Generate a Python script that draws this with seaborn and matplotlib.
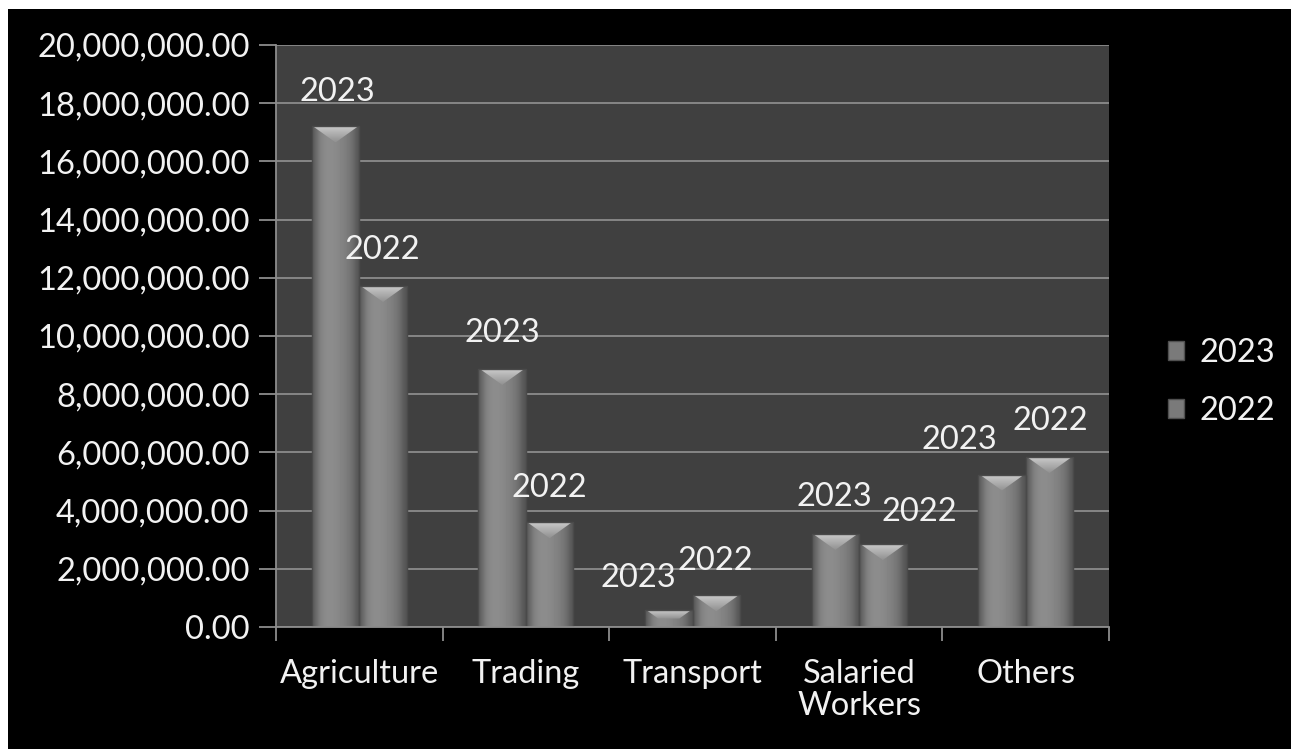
import numpy as np
import pandas as pd
import matplotlib
matplotlib.use("Agg")
import matplotlib.pyplot as plt
from matplotlib.patches import Rectangle, Polygon
from matplotlib.ticker import FuncFormatter, MultipleLocator
import seaborn as sns

# ---- data -------------------------------------------------------------
sectors = ["Agriculture", "Trading", "Transport", "Salaried\nWorkers", "Others"]
years = ["2023", "2022"]
values_2023 = [17_200_000, 8_870_000, 580_000, 3_200_000, 5_240_000]
values_2022 = [11_720_000, 3_600_000, 1_090_000, 2_850_000, 5_840_000]

# label nudges (pixels) so that neighbouring labels do not collide
label_dx = {"2023": [2, 0, -30, -1, -43], "2022": [-1, 0, -1, 36, 1]}
label_dy = {"2023": [34, 36, 32, 37, 35], "2022": [36, 34, 34, 32, 36]}

df = pd.DataFrame({
    "sector": sectors * 2,
    "year": [years[0]] * len(sectors) + [years[1]] * len(sectors),
    "value": values_2023 + values_2022,
})

# ---- style ------------------------------------------------------------
sns.set_theme(style="dark")
plt.rcParams["font.family"] = ["Lato", "DejaVu Sans"]
TEXT = "#f2f2f2"
AXIS = "#8c8c8c"
FS = 23.5

W, H, DPI = 1291, 749, 100
fig = plt.figure(figsize=(W / DPI, H / DPI), dpi=DPI, facecolor="black")
ax = fig.add_axes([276 / W, 1 - 627 / H, (1109 - 276) / W, (627 - 45) / H])
ax.set_facecolor("#404040")

sns.barplot(data=df, x="sector", y="value", hue="year", hue_order=years,
            order=sectors, palette=["#7c7c7c", "#787878"], width=0.57,
            gap=0, saturation=1, legend=False, ax=ax, zorder=3,
            edgecolor="#555555", linewidth=0.8)

ax.set_xlim(-0.5, len(sectors) - 0.5)
ax.set_ylim(0, 20_000_000)

# ---- shaded, bevelled bars --------------------------------------------
profile = np.array([0.36, 0.48, 0.53, 0.55, 0.55, 0.54, 0.52, 0.50, 0.47, 0.42, 0.33])
grad = np.tile(profile, (2, 1))
bevel_grad = np.linspace(0.78, 0.58, 8)[:, None] * np.ones((1, 2))
px_per_unit = (627 - 45) / 20_000_000
bevel_px = 16

for cont in ax.containers:
    for bar in cont:
        x0 = bar.get_x()
        w = bar.get_width()
        h = bar.get_height()
        im = ax.imshow(grad, cmap="gray", vmin=0, vmax=1, aspect="auto",
                       extent=(x0, x0 + w, 0, h), zorder=3.5,
                       interpolation="bicubic")
        im.set_clip_path(bar)
        b = min(bevel_px / px_per_unit, h * 0.5)
        frac = b / (bevel_px / px_per_unit)
        d = frac * w / 2
        tri = Polygon([(x0 + 0.03 * w, h), (x0 + 0.97 * w, h),
                       (x0 + w / 2 + (w / 2 - d) * 0.94, h - b),
                       (x0 + w / 2 - (w / 2 - d) * 0.94, h - b)],
                      closed=True, facecolor="none", edgecolor="none")
        ax.add_patch(tri)
        bim = ax.imshow(bevel_grad, cmap="gray", vmin=0, vmax=1, aspect="auto",
                        extent=(x0, x0 + w, h - b, h), zorder=3.8,
                        interpolation="bilinear", origin="upper")
        bim.set_clip_path(tri)
        ax.add_patch(Rectangle((x0, 0), w, h, facecolor="none",
                               edgecolor="#4a4a4a", linewidth=1.0, zorder=3.9))

ax.set_xlim(-0.5, len(sectors) - 0.5)
ax.set_ylim(0, 20_000_000)

# ---- value labels (series name above each bar) --------------------------
pt = 72 / DPI
for yi, (yr, cont) in enumerate(zip(years, ax.containers)):
    for i, bar in enumerate(cont):
        xc = bar.get_x() + bar.get_width() / 2
        ax.annotate(yr, (xc, bar.get_height()),
                    xytext=(label_dx[yr][i] * pt, label_dy[yr][i] * pt),
                    textcoords="offset points", ha="center", va="center",
                    color=TEXT, fontsize=FS, zorder=5)

# ---- axes ---------------------------------------------------------------
ax.yaxis.set_major_locator(MultipleLocator(2_000_000))
ax.yaxis.set_major_formatter(FuncFormatter(lambda v, p: f"{v:,.2f}"))
ax.grid(axis="y", color=AXIS, linewidth=1.3, zorder=1)
ax.grid(axis="x", visible=False)
ax.set_axisbelow(True)

ax.set_xticks(np.arange(len(sectors) + 1) - 0.5, minor=True)
ax.tick_params(axis="x", which="major", length=0, pad=23, labelsize=FS,
               labelcolor=TEXT)
ax.tick_params(axis="x", which="minor", length=10, width=1.3, color=AXIS,
               direction="out", bottom=True)
ax.tick_params(axis="y", length=12, width=1.3, color=AXIS, pad=7,
               labelsize=FS, labelcolor=TEXT, left=True)
for lab in ax.get_xticklabels():
    lab.set_linespacing(1.1)
    lab.set_va("top")

for side in ("top", "right"):
    ax.spines[side].set_visible(False)
for side in ("left", "bottom"):
    ax.spines[side].set_visible(True)
    ax.spines[side].set_color(AXIS)
    ax.spines[side].set_linewidth(1.3)
    ax.spines[side].set_zorder(4)
ax.set_xlabel("")
ax.set_ylabel("")

# ---- legend -------------------------------------------------------------
handles = [Rectangle((0, 0), 1, 1, facecolor="#7a7a7a", edgecolor="#505050")
           for _ in years]
leg = fig.legend(handles, years, loc="center left",
                 bbox_to_anchor=(1168 / W, 1 - 382 / H), frameon=False,
                 fontsize=FS, labelcolor=TEXT, handlelength=0.5,
                 handleheight=0.5, handletextpad=0.45, labelspacing=0.85,
                 borderpad=0, borderaxespad=0)

# ---- page edges ---------------------------------------------------------
fig.patches.append(Rectangle((0, 1 - 9 / H), 1, 9 / H, transform=fig.transFigure,
                             facecolor="white", edgecolor="none", zorder=0))
fig.patches.append(Rectangle((0, 0), 8 / W, 1, transform=fig.transFigure,
                             facecolor="white", edgecolor="none", zorder=0))

fig.savefig("out.png", dpi=DPI, facecolor="black")
